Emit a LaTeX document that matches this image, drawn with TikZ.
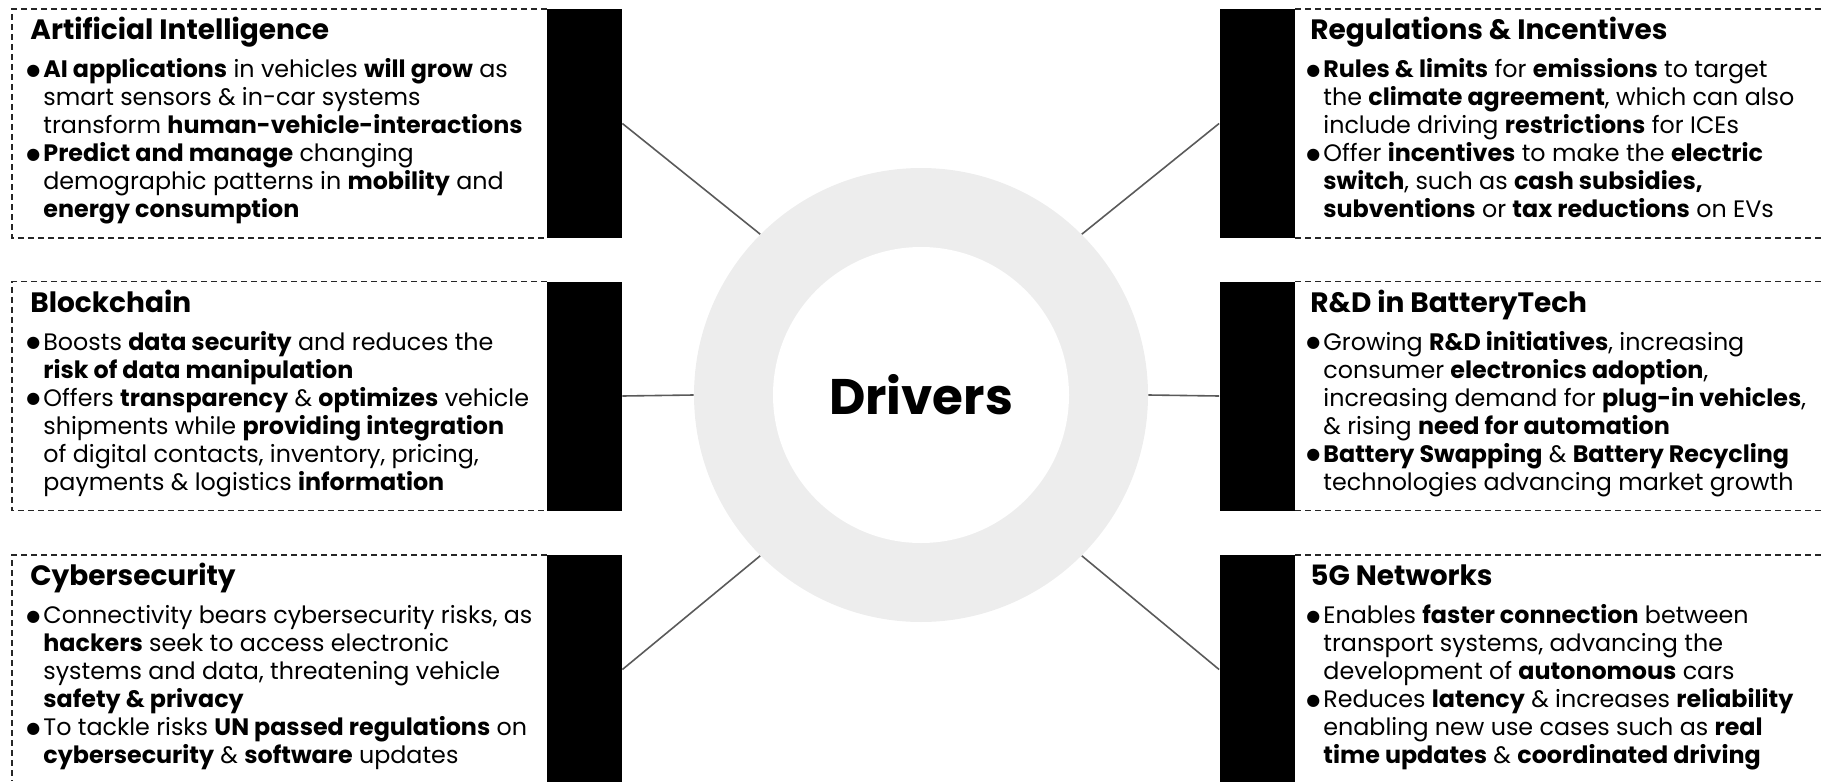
\documentclass[tikz,border=0pt]{standalone}
\usepackage{fontspec}
\setmainfont{Poppins}
\newfontfamily\symfont{DejaVu Sans}
\definecolor{ringgray}{HTML}{EDEDED}
\definecolor{linegray}{HTML}{5A5A5A}
\newcommand\bul{\leavevmode\llap{\raisebox{1.2pt}{\fontsize{8pt}{8pt}\symfont ●}\hspace{1.5pt}}}
\newcommand\bodytext[1]{\parbox[t]{330pt}{\fontsize{11.9pt}{14pt}\selectfont\raggedright #1}}
\tikzset{
  bodynode/.style={anchor=base west, inner sep=0pt},
  titlenode/.style={anchor=base west, inner sep=0pt, font=\fontsize{14pt}{16pt}\selectfont\bfseries},
  bar/.style={rectangle, fill=black, draw=none, minimum width=37.5pt, minimum height=114.5pt, inner sep=0pt},
  dashbox/.style={draw=black!85, line width=0.6pt, dash pattern=on 3pt off 2pt},
  conn/.style={draw=linegray, line width=0.8pt},
}
\begin{document}
\begin{tikzpicture}[x=0.5pt,y=-0.5pt]
\useasboundingbox (0,0) rectangle (1824,781);
% centre
\node[circle, fill=ringgray, minimum size=227pt, inner sep=0pt] (ring) at (921,395) {};
\node[circle, fill=white, minimum size=148pt, inner sep=0pt, font=\fontsize{25pt}{30pt}\selectfont\bfseries] (core) at (921,395) {Drivers};
% dashed frames
\draw[dashbox] (547,9) -- (12,9) -- (12,238) -- (547,238);
\draw[dashbox] (547,281.5) -- (12,281.5) -- (12,510.5) -- (547,510.5);
\draw[dashbox] (547,555) -- (12,555) -- (12,781);
\draw[dashbox] (1295,9) -- (1824,9);
\draw[dashbox] (1295,238) -- (1824,238);
\draw[dashbox] (1295,281.5) -- (1824,281.5);
\draw[dashbox] (1295,510.5) -- (1824,510.5);
\draw[dashbox] (1295,555) -- (1824,555);
% bars
\node[bar] (barAI) at (584.5,123.5) {};
\node[bar] (barBC) at (584.5,396) {};
\node[bar] (barCS) at (584.5,669.5) {};
\node[bar] (barRI) at (1257,123.5) {};
\node[bar] (barRD) at (1257,396) {};
\node[bar] (bar5G) at (1257,669.5) {};
% connectors
\draw[conn] (barAI.east) -- (ring.135);
\draw[conn] (barBC.east) -- (ring.180);
\draw[conn] (barCS.east) -- (ring.225);
\draw[conn] (barRI.west) -- (ring.45);
\draw[conn] (barRD.west) -- (ring.0);
\draw[conn] (bar5G.west) -- (ring.315);
% left texts
\node[titlenode] (tAI) at (30,39.5) {Artificial Intelligence};
\node[bodynode] (bAI) at (43,77.5) {\bodytext{%
\bul\textbf{AI applications} in vehicles \textbf{will grow} as\\
smart sensors \& in-car systems\\
transform \textbf{human-vehicle-interactions}\\
\bul\textbf{Predict and manage} changing\\
demographic patterns in \textbf{mobility} and\\
\textbf{energy consumption}}};
\node[titlenode] (tBC) at (30,312) {Blockchain};
\node[bodynode] (bBC) at (43,350) {\bodytext{%
\bul Boosts \textbf{data security} and reduces the\\
\textbf{risk of data manipulation}\\
\bul Offers \textbf{transparency} \& \textbf{optimizes} vehicle\\
shipments while \textbf{providing integration}\\
of digital contacts, inventory, pricing,\\
payments \& logistics \textbf{information}}};
\node[titlenode] (tCS) at (30,585.5) {Cybersecurity};
\node[bodynode] (bCS) at (43,623.5) {\bodytext{%
\bul Connectivity bears cybersecurity risks, as\\
\textbf{hackers} seek to access electronic\\
systems and data, threatening vehicle\\
\textbf{safety \& privacy}\\
\bul To tackle risks \textbf{UN passed regulations} on\\
\textbf{cybersecurity} \& \textbf{software} updates}};
% right texts
\node[titlenode] (tRI) at (1310,39.5) {Regulations \& Incentives};
\node[bodynode] (bRI) at (1323,77.5) {\bodytext{%
\bul\textbf{Rules \& limits} for \textbf{emissions} to target\\
the \textbf{climate agreement}, which can also\\
include driving \textbf{restrictions} for ICEs\\
\bul Offer \textbf{incentives} to make the \textbf{electric}\\
\textbf{switch}, such as \textbf{cash subsidies,}\\
\textbf{subventions} or \textbf{tax reductions} on EVs}};
\node[titlenode] (tRD) at (1310,312) {R\&D in BatteryTech};
\node[bodynode] (bRD) at (1323,350) {\bodytext{%
\bul Growing \textbf{R\&D initiatives}, increasing\\
consumer \textbf{electronics adoption},\\
increasing demand for \textbf{plug-in vehicles},\\
\& rising \textbf{need for automation}\\
\bul\textbf{Battery Swapping} \& \textbf{Battery Recycling}\\
technologies advancing market growth}};
\node[titlenode] (t5G) at (1310,585.5) {5G Networks};
\node[bodynode] (b5G) at (1323,623.5) {\bodytext{%
\bul Enables \textbf{faster connection} between\\
transport systems, advancing the\\
development of \textbf{autonomous} cars\\
\bul Reduces \textbf{latency} \& increases \textbf{reliability}\\
enabling new use cases such as \textbf{real}\\
\textbf{time updates} \& \textbf{coordinated driving}}};
\end{tikzpicture}
\end{document}
